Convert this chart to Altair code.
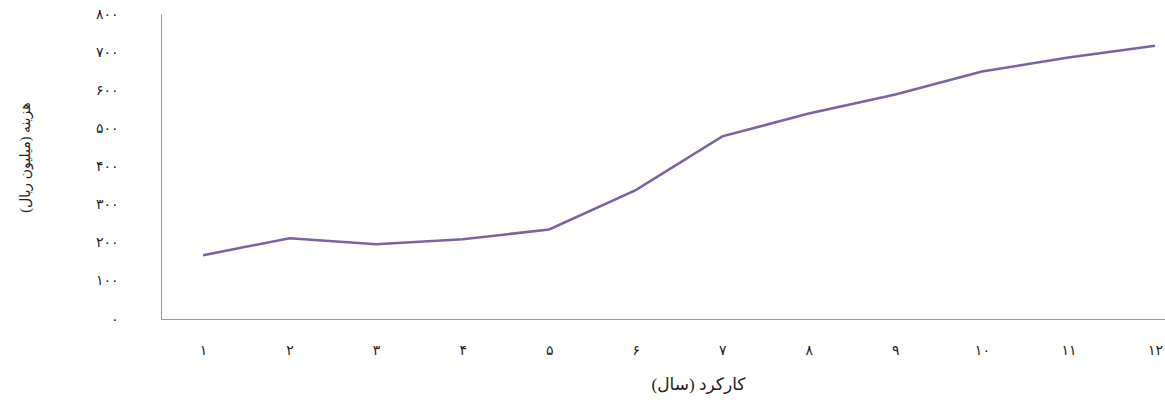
import json
import altair as alt
import pandas as pd

years = [1, 2, 3, 4, 5, 6, 7, 8, 9, 10, 11, 12]
cost = [167, 212, 196, 209, 235, 338, 479, 539, 589, 649, 686, 717]
x_tick_labels = ["۱", "۲", "۳", "۴", "۵", "۶", "۷", "۸", "۹", "۱۰", "۱۱", "۱۲"]
y_tick_values = [0, 100, 200, 300, 400, 500, 600, 700, 800]
y_tick_labels = ["۰", "۱۰۰", "۲۰۰", "۳۰۰", "۴۰۰", "۵۰۰", "۶۰۰", "۷۰۰", "۸۰۰"]
x_title = "کارکرد (سال)"
y_title = "هزینه (میلیون ریال)"

df = pd.DataFrame({"year": years, "cost": cost})

font = "Liberation Serif, DejaVu Sans, sans-serif"

x_expr = json.dumps(x_tick_labels, ensure_ascii=False) + "[datum.value - 1]"
y_expr = json.dumps(y_tick_labels, ensure_ascii=False) + "[datum.value / 100]"

chart = (
    alt.Chart(df)
    .mark_line(color="#7d62a1", strokeWidth=2.5)
    .encode(
        x=alt.X(
            "year:Q",
            scale=alt.Scale(domain=[0.514, 12.116], nice=False, zero=False),
            axis=alt.Axis(
                values=years,
                labelExpr=x_expr,
                title=x_title,
                grid=False,
                ticks=False,
                domainColor="#9a9a9a",
                domainWidth=1,
                labelPadding=24,
                labelFontSize=14,
                labelFont=font,
                labelColor="#222222",
                labelFlush=False,
                titleFont=font,
                titleFontSize=17,
                titleFontWeight="normal",
                titleColor="#222222",
                titleX=537,
                titleY=65,
                titleBaseline="middle",
            ),
        ),
        y=alt.Y(
            "cost:Q",
            scale=alt.Scale(domain=[0, 800], nice=False),
            axis=alt.Axis(
                values=y_tick_values,
                labelExpr=y_expr,
                title=y_title,
                grid=False,
                ticks=False,
                domainColor="#9a9a9a",
                domainWidth=1,
                labelPadding=43,
                labelFontSize=14,
                labelFont=font,
                labelColor="#222222",
                titleFont=font,
                titleFontSize=14,
                titleFontWeight="normal",
                titleColor="#222222",
                titleX=-136,
                titleY=143,
                titleAngle=270,
                titleBaseline="middle",
            ),
        ),
    )
    .properties(
        width=1004,
        height=305,
        background="white",
        autosize=alt.AutoSizeParams(type="none"),
        padding={"left": 161, "top": 14, "right": 0, "bottom": 81},
    )
    .configure_view(strokeWidth=0, stroke="transparent")
)

chart.save("out.html", embed_options={"renderer": "svg", "actions": False})
